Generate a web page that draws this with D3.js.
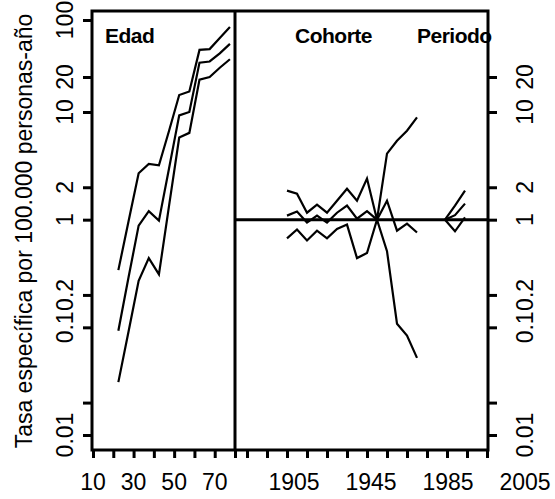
<!DOCTYPE html>
<html>
<head>
<meta charset="utf-8">
<script src="https://cdn.jsdelivr.net/npm/d3@7"></script>
<style>
    body { margin: 0; background: #fff; }
    text { font-family: "Liberation Sans", Arial, sans-serif; fill: #000; }
</style>
</head>
<body>
<div id="chart"></div>
<script>
"use strict";

// age effect: rate per 100.000 person-years, with confidence band
const ages = [22.5, 27.5, 32.5, 37.5, 42.5, 47.5, 52.5, 57.5, 62.5, 67.5, 72.5, 77.5];
const ageRate = [0.093, 0.29, 0.88, 1.2, 0.98, 3.0, 9.3, 10, 30, 31, 39, 51];
const ageUpper = [0.34, 0.96, 2.7, 3.3, 3.2, 6.7, 14, 15, 43, 44, 60, 82];
const ageLower = [0.031, 0.091, 0.27, 0.44, 0.31, 1.35, 5.8, 6.4, 19, 20, 26, 33];

// cohort effect: rate ratio, reference cohort 1950
const cohorts = [1905, 1910, 1915, 1920, 1925, 1930, 1935, 1940, 1945, 1950, 1955, 1960, 1965, 1970];
const cohortRR = [1.09, 1.19, 0.94, 1.09, 0.94, 1.16, 1.35, 1.02, 1.2, 1, 1.5, 0.79, 0.92, 0.76];
const cohortUpper = [1.86, 1.74, 1.16, 1.38, 1.16, 1.5, 1.94, 1.5, 2.41, 1, 4.1, 5.4, 6.7, 8.9];
const cohortLower = [0.67, 0.81, 0.64, 0.79, 0.67, 0.82, 0.9, 0.44, 0.49, 1, 0.51, 0.108, 0.084, 0.052];

// period effect: rate ratio, reference first period
const periods = [1984, 1989, 1994];
const periodRR = [1, 1.1, 1.41];
const periodUpper = [1, 1.35, 1.86];
const periodLower = [1, 0.78, 1.05];

// axes
const yTicks = [100, 20, 10, 2, 1, 0.2, 0.1, 0.02, 0.01];
const yLabelsLeft = [100, 20, 10, 2, 1, 0.2, 0.1, 0.01];
const yLabelsRight = [20, 10, 2, 1, 0.2, 0.1, 0.01];
const ageTicks = [10, 20, 30, 40, 50, 60, 70, 80];
const ageLabels = [10, 30, 50, 70];
const yearTicks = [1885, 1895, 1905, 1915, 1925, 1935, 1945, 1955, 1965, 1975, 1985, 1995, 2005];
const yearLabels = ["1905", "1945", "1985", "2005"];

const msm = {
    width: 555,
    height: 499,
    left: 92,
    split: 235,
    right: 488,
    top: 11,
    bottom: 450
}

let svg = "";

window.onload = function () {
    svg = d3.select("#chart")
        .append("svg")
        .attr("width", msm.width)
        .attr("height", msm.height);

    let map = makeScales();
    drawFrame(map);
    drawAxes(map);
    plotData(map);
    makeLabels();
}

function makeScales() {
    // the printed log axis is stretched above 10, so use a piecewise log scale
    let y = d3.scaleLog()
        .domain([0.01, 10, 20, 100])
        .range([435, 112, 77, 20]);
    let age = d3.scaleLinear()
        .domain([10, 80])
        .range([93, msm.split]);
    let year = d3.scaleLinear()
        .domain([1905, 2005])
        .range([287, 487]);
    // year labels are spread evenly in the reference
    let yearLab = d3.scalePoint()
        .domain(yearLabels)
        .range([294, 525]);
    return { y: y, age: age, year: year, yearLab: yearLab };
}

function drawFrame(map) {
    svg.append("rect")
        .attr("x", msm.left)
        .attr("y", msm.top)
        .attr("width", msm.right - msm.left)
        .attr("height", msm.bottom - msm.top)
        .attr("fill", "none")
        .attr("stroke", "#000")
        .attr("stroke-width", 3);

    svg.append("line")
        .attr("x1", msm.split).attr("x2", msm.split)
        .attr("y1", msm.top).attr("y2", msm.bottom)
        .attr("stroke", "#000")
        .attr("stroke-width", 3);

    // reference line at rate ratio 1
    svg.append("line")
        .attr("x1", msm.split).attr("x2", msm.right)
        .attr("y1", map.y(1)).attr("y2", map.y(1))
        .attr("stroke", "#000")
        .attr("stroke-width", 3);
}

function styleAxis(g) {
    g.select(".domain").remove();
    g.selectAll(".tick line")
        .attr("stroke", "#000")
        .attr("stroke-width", 3);
}

function drawAxes(map) {
    svg.append("g")
        .attr("transform", "translate(" + msm.left + ",0)")
        .call(d3.axisLeft(map.y).tickValues(yTicks).tickSize(9).tickFormat(""))
        .call(styleAxis);

    svg.append("g")
        .attr("transform", "translate(" + msm.right + ",0)")
        .call(d3.axisRight(map.y).tickValues(yTicks.slice(1)).tickSize(9).tickFormat(""))
        .call(styleAxis);

    svg.append("g")
        .attr("transform", "translate(0," + msm.bottom + ")")
        .call(d3.axisBottom(map.age).tickValues(ageTicks).tickSize(8).tickFormat(""))
        .call(styleAxis);

    svg.append("g")
        .attr("transform", "translate(0," + msm.bottom + ")")
        .call(d3.axisBottom(map.year).tickValues(yearTicks).tickSize(8).tickFormat(""))
        .call(styleAxis);

    // rotated tick labels, as in R with las = 0
    svg.selectAll(".ylabL")
        .data(yLabelsLeft)
        .enter().append("text")
        .attr("class", "ylabL")
        .attr("transform", (d) => "translate(73," + map.y(d) + ") rotate(-90)")
        .attr("text-anchor", "middle")
        .style("font-size", "23px")
        .text((d) => d);

    svg.selectAll(".ylabR")
        .data(yLabelsRight)
        .enter().append("text")
        .attr("class", "ylabR")
        .attr("transform", (d) => "translate(533," + map.y(d) + ") rotate(-90)")
        .attr("text-anchor", "middle")
        .style("font-size", "23px")
        .text((d) => d);

    svg.selectAll(".xlabA")
        .data(ageLabels)
        .enter().append("text")
        .attr("class", "xlabA")
        .attr("x", (d) => map.age(d))
        .attr("y", 490)
        .attr("text-anchor", "middle")
        .style("font-size", "23px")
        .text((d) => d);

    svg.selectAll(".xlabY")
        .data(yearLabels)
        .enter().append("text")
        .attr("class", "xlabY")
        .attr("x", (d) => map.yearLab(d))
        .attr("y", 490)
        .attr("text-anchor", "middle")
        .style("font-size", "23px")
        .text((d) => d);
}

function plotData(map) {
    let ageLine = d3.line()
        .x((d) => map.age(d[0]))
        .y((d) => map.y(d[1]));
    let yearLine = d3.line()
        .x((d) => map.year(d[0]))
        .y((d) => map.y(d[1]));

    let series = [
        [ageLine, ages, ageRate],
        [ageLine, ages, ageUpper],
        [ageLine, ages, ageLower],
        [yearLine, cohorts, cohortRR],
        [yearLine, cohorts, cohortUpper],
        [yearLine, cohorts, cohortLower],
        [yearLine, periods, periodRR],
        [yearLine, periods, periodUpper],
        [yearLine, periods, periodLower]
    ];

    series.forEach((s) => {
        svg.append("path")
            .datum(d3.zip(s[1], s[2]))
            .attr("d", s[0])
            .attr("fill", "none")
            .attr("stroke", "#000")
            .attr("stroke-width", 2.2);
    });
}

function makeLabels() {
    let titles = [["Edad", 105], ["Cohorte", 295], ["Periodo", 417]];
    svg.selectAll(".ptitle")
        .data(titles)
        .enter().append("text")
        .attr("class", "ptitle")
        .attr("x", (d) => d[1])
        .attr("y", 43)
        .style("font-size", "21px")
        .style("font-weight", "bold")
        .style("letter-spacing", "-0.5px")
        .text((d) => d[0]);

    svg.append("text")
        .attr("transform", "translate(32,231) rotate(-90)")
        .attr("text-anchor", "middle")
        .style("font-size", "23px")
        .text("Tasa específica por 100.000 personas-año");
}
</script>
</body>
</html>
